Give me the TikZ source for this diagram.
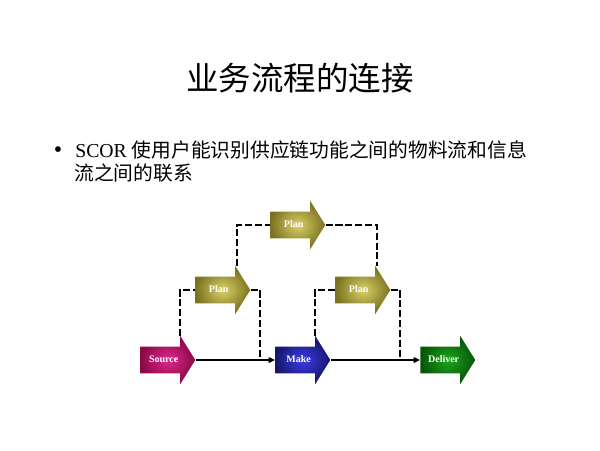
\documentclass[tikz,border=0pt]{standalone}
\usepackage{fontspec}
\setmainfont{Liberation Serif}
\newfontfamily\cjk{Noto Sans CJK SC}
\usetikzlibrary{shapes.arrows,arrows.meta,calc}
\newcommand{\pxUnit}[0]{0.025cm}
\definecolor{sourceDark}{HTML}{8A0844}
\definecolor{sourceLight}{HTML}{E02890}
\definecolor{makeDark}{HTML}{16166A}
\definecolor{makeLight}{HTML}{3C3CEA}
\definecolor{deliverDark}{HTML}{085408}
\definecolor{deliverLight}{HTML}{1CA81C}
\definecolor{planDark}{HTML}{7A7220}
\definecolor{planLight}{HTML}{DAD068}

\begin{document}
\begin{tikzpicture}[x=\pxUnit, y=-\pxUnit]
  \tikzset{stage/.style={single arrow, anchor=tail, minimum height=1.375cm,
      single arrow head extend=0.275cm, single arrow tip angle=116,
      text height=5pt, text depth=1.5pt, inner xsep=1pt, inner ysep=6pt,
      text=white, font=\fontsize{7.1}{8}\selectfont\bfseries},
    plan/.style={stage, inner color=planLight, outer color=planDark},
    flow/.style={line width=1pt, -{Triangle[length=4.5pt,width=4pt]}},
    info/.style={line width=1pt, dash pattern=on 5pt off 2pt}}
  \useasboundingbox (0,0) rectangle (600,450);
  \node (title) at (300,78) {\fontsize{23.1}{28}\selectfont\cjk 业务流程的连接};
  \node (bullet) at (58,152) {\fontsize{17}{20}\selectfont\textbullet};
  \node[anchor=base west, inner sep=0] (line1) at (75,157.6)
    {\fontsize{14.05}{17}\selectfont SCOR {\cjk 使用户能识别供应链功能之间的物料流和信息}};
  \node[anchor=base west, inner sep=0] (line2) at (74,180.6)
    {\fontsize{14.05}{17}\selectfont\cjk 流之间的联系};
  \node[stage, inner color=sourceLight, outer color=sourceDark] (source) at (140,360) {Source};
  \node[stage, inner color=makeLight, outer color=makeDark] (make) at (275,360) {Make};
  \node[stage, inner color=deliverLight, outer color=deliverDark] (deliver) at (420,360) {Deliver};
  \node[plan] (planL) at (195,290) {Plan};
  \node[plan] (planT) at (270,225) {Plan};
  \node[plan] (planR) at (335,290) {Plan};
  \coordinate (sourceTop) at ($(source.tail)+(40,-24)$);
  \coordinate (makeTop) at ($(make.tail)+(40,-24)$);
  \coordinate (planLTop) at ($(planL.tail)+(42,-24)$);
  \coordinate (planRTop) at ($(planR.tail)+(42,-24)$);
  \coordinate (dropL) at (260,360);
  \coordinate (dropR) at (400,360);
  \draw[flow] (source.tip) -- (make.tail);
  \draw[flow] (make.tip) -- (deliver.tail);
  \draw[info] (sourceTop) |- (planL.tail);
  \draw[info] (planL.tip) -| (dropL);
  \draw[info] (planLTop) |- (planT.tail);
  \draw[info] (planT.tip) -| (planRTop);
  \draw[info] (makeTop) |- (planR.tail);
  \draw[info] (planR.tip) -| (dropR);
\end{tikzpicture}
\end{document}
